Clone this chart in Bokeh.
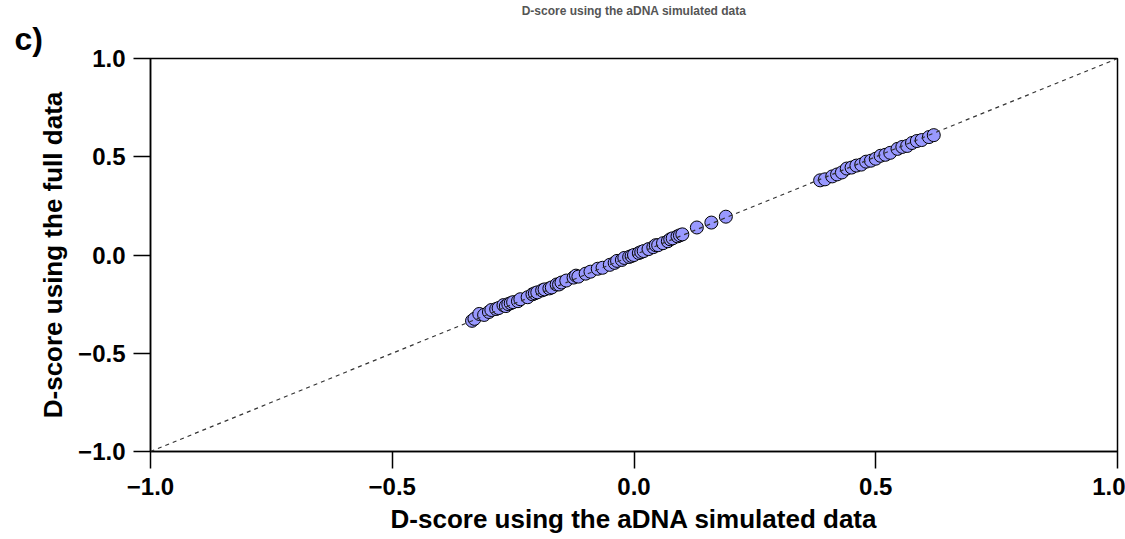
from bokeh.plotting import figure
from bokeh.models import Range1d, FixedTicker, CustomJSTickFormatter, Title, Slope
from bokeh.embed import file_html
from bokeh.resources import INLINE

# D-score using the aDNA simulated data (x) vs the full data (y)
sim_x = [-0.335, -0.33, -0.32, -0.31, -0.30, -0.295, -0.285, -0.28, -0.27, -0.265,
         -0.26, -0.255, -0.25, -0.24, -0.235, -0.22, -0.21, -0.205, -0.20, -0.19,
         -0.185, -0.175, -0.17, -0.16, -0.155, -0.15, -0.14, -0.125, -0.12, -0.115,
         -0.10, -0.09, -0.075, -0.065, -0.05, -0.04, -0.035, -0.025, -0.02, -0.01,
         -0.005, 0.0, 0.01, 0.015, 0.02, 0.03, 0.04, 0.045, 0.05, 0.06,
         0.07, 0.075, 0.08, 0.09, 0.095, 0.10, 0.13, 0.16, 0.19,
         0.385, 0.395, 0.41, 0.42, 0.43, 0.44, 0.45, 0.46, 0.47, 0.48,
         0.49, 0.50, 0.51, 0.52, 0.53, 0.545, 0.555, 0.565, 0.575, 0.585,
         0.595, 0.61, 0.62]
full_y = [-0.335, -0.325, -0.30, -0.305, -0.29, -0.28, -0.275, -0.27, -0.255, -0.26,
          -0.25, -0.245, -0.24, -0.235, -0.225, -0.215, -0.20, -0.195, -0.19, -0.18,
          -0.175, -0.17, -0.165, -0.15, -0.15, -0.14, -0.13, -0.115, -0.105, -0.11,
          -0.095, -0.085, -0.07, -0.065, -0.05, -0.04, -0.03, -0.025, -0.015, -0.01,
          -0.005, 0.0, 0.01, 0.015, 0.02, 0.03, 0.04, 0.05, 0.05, 0.06,
          0.07, 0.08, 0.085, 0.095, 0.10, 0.105, 0.14, 0.165, 0.195,
          0.38, 0.385, 0.40, 0.41, 0.42, 0.44, 0.445, 0.455, 0.46, 0.475,
          0.48, 0.49, 0.505, 0.51, 0.52, 0.54, 0.55, 0.555, 0.57, 0.58,
          0.585, 0.60, 0.61]
ticks = [-1.0, -0.5, 0.0, 0.5, 1.0]
x_label = "D-score using the aDNA simulated data"
y_label = "D-score using the full data"
title_text = "D-score using the aDNA simulated data"
panel_label = "c)"

FONT = "Liberation Sans"

p = figure(width=1125, height=539, output_backend="svg", toolbar_location=None,
           x_range=Range1d(-1, 1), y_range=Range1d(-1, 1),
           min_border_left=150, min_border_right=8, min_border_top=58, min_border_bottom=88)
p.grid.visible = False
p.outline_line_color = "black"
p.outline_line_width = 1.5
p.background_fill_color = "white"
p.border_fill_color = "white"

p.title.text = title_text
p.title.align = "center"
p.title.offset = -11
p.title.text_font = FONT
p.title.text_font_style = "bold"
p.title.text_font_size = "12px"
p.title.text_color = "#555555"
p.title.standoff = 0

p.add_layout(Title(text=panel_label, align="left", offset=-136, text_font=FONT,
                   text_font_style="bold", text_font_size="32px", text_color="black",
                   standoff=3), "above")

fmt = CustomJSTickFormatter(code="return (tick < 0 ? '\\u2212' : '') + Math.abs(tick).toFixed(1);")
for ax in (p.xaxis[0], p.yaxis[0]):
    ax.ticker = FixedTicker(ticks=ticks)
    ax.formatter = fmt
    ax.minor_tick_line_color = None
    ax.major_tick_in = 0
    ax.major_tick_out = 17
    ax.major_tick_line_width = 1.5
    ax.axis_line_width = 1.5
    ax.major_label_text_font = FONT
    ax.major_label_text_font_style = "bold"
    ax.major_label_text_font_size = "24px"
    ax.major_label_text_color = "black"
    ax.axis_label_text_font = FONT
    ax.axis_label_text_font_style = "bold"
    ax.axis_label_text_font_size = "26px"
    ax.axis_label_text_color = "black"

p.xaxis.axis_label = x_label
p.yaxis.axis_label = y_label
p.xaxis.major_label_standoff = 9
p.yaxis.major_label_standoff = 8
p.xaxis.axis_label_standoff = 6
p.yaxis.axis_label_standoff = 7

p.add_layout(Slope(gradient=1, y_intercept=0, line_color="#333333", line_dash="4 4", line_width=1.2))

p.scatter(sim_x, full_y, size=13, marker="circle", fill_color="#9999FF",
          line_color="black", line_width=1)

open("out.html", "w").write(file_html(p, INLINE))
